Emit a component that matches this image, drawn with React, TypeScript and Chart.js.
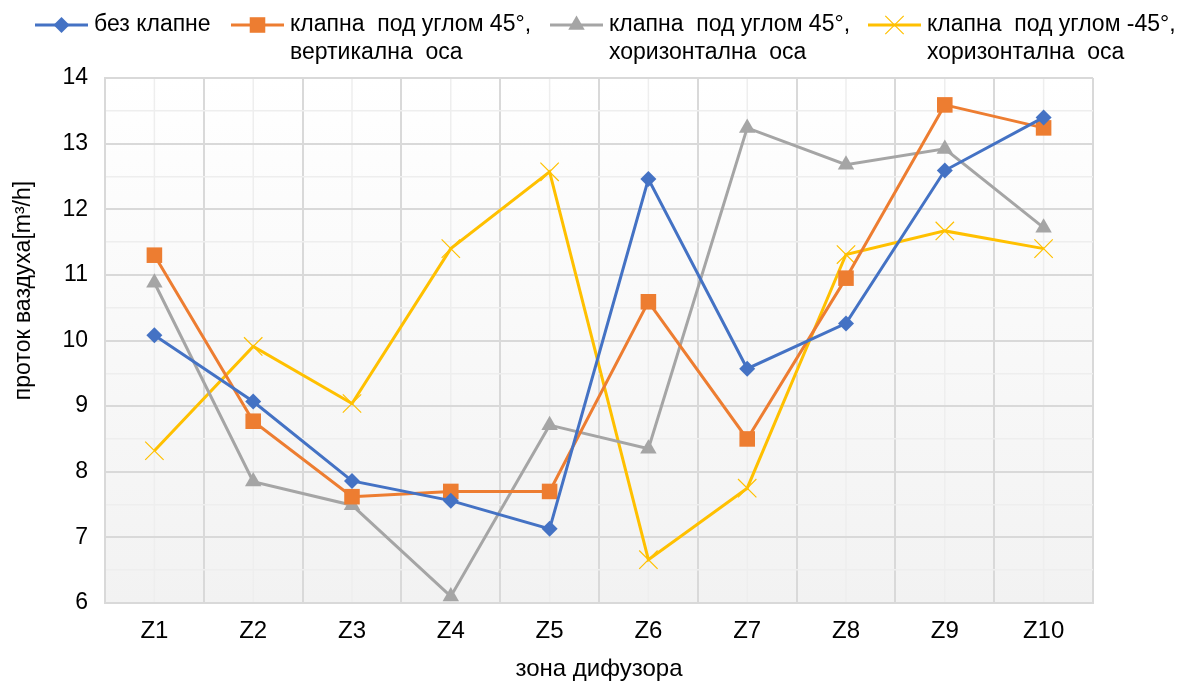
import React, { useEffect, useRef } from 'react';
import { Chart, registerables } from 'chart.js';

Chart.register(...registerables);

const categories = ['Z1', 'Z2', 'Z3', 'Z4', 'Z5', 'Z6', 'Z7', 'Z8', 'Z9', 'Z10'];

const bezKlapne = [10.08, 9.07, 7.86, 7.56, 7.13, 12.46, 9.57, 10.26, 12.59, 13.4];
const klapna45Vert = [11.3, 8.77, 7.62, 7.7, 7.7, 10.59, 8.5, 10.95, 13.59, 13.24];
const klapna45Hor = [10.88, 7.85, 7.49, 6.1, 8.71, 8.35, 13.24, 12.68, 12.92, 11.72];
const klapnaMinus45Hor = [8.32, 9.91, 9.04, 11.4, 12.57, 6.66, 7.75, 11.31, 11.67, 11.4];

const seriesLabels = [
  ['без клапне'],
  ['клапна  под углом 45°,', 'вертикална  оса'],
  ['клапна  под углом 45°,', 'хоризонтална  оса'],
  ['клапна  под углом -45°,', 'хоризонтална  оса'],
];

const yTitle = 'проток ваздуха[m³/h]';
const xTitle = 'зона дифузора';

const COLORS = ['#4472C4', '#ED7D31', '#A5A5A5', '#FFC000'];
const STYLES = ['rectRot', 'rect', 'triangle', 'crossRot'];
const RADII = [8, 11, 9.5, 13];
const LEGEND_X = [35, 231, 550, 868];

const SANS = "'Liberation Sans', Arial, sans-serif";
const NARROW = "'Liberation Sans Narrow', 'Liberation Sans', Arial, sans-serif";

function drawMarker(ctx: CanvasRenderingContext2D, style: string, x: number, y: number, r: number, color: string) {
  ctx.save();
  ctx.fillStyle = color;
  ctx.strokeStyle = color;
  ctx.beginPath();
  if (style === 'rectRot') {
    ctx.moveTo(x - r, y);
    ctx.lineTo(x, y - r);
    ctx.lineTo(x + r, y);
    ctx.lineTo(x, y + r);
    ctx.closePath();
    ctx.fill();
  } else if (style === 'rect') {
    const s = Math.SQRT1_2 * r;
    ctx.rect(x - s, y - s, 2 * s, 2 * s);
    ctx.fill();
  } else if (style === 'triangle') {
    const a = (2 * Math.PI) / 3;
    ctx.moveTo(x, y - r);
    ctx.lineTo(x + Math.sin(a) * r, y - Math.cos(a) * r);
    ctx.lineTo(x + Math.sin(2 * a) * r, y - Math.cos(2 * a) * r);
    ctx.closePath();
    ctx.fill();
  } else {
    const d = Math.SQRT1_2 * r;
    ctx.lineWidth = 1.2;
    ctx.moveTo(x - d, y - d);
    ctx.lineTo(x + d, y + d);
    ctx.moveTo(x + d, y - d);
    ctx.lineTo(x - d, y + d);
    ctx.stroke();
  }
  ctx.restore();
}

const decorPlugin = {
  id: 'decor',
  beforeDraw(chart: any) {
    const { ctx, chartArea } = chart;
    const { left, right, top, bottom } = chartArea;
    ctx.save();
    const g = ctx.createLinearGradient(0, top, 0, bottom);
    g.addColorStop(0, '#FFFFFF');
    g.addColorStop(1, '#F2F2F2');
    ctx.fillStyle = g;
    ctx.fillRect(left, top, right - left, bottom - top);
    // minor vertical gridlines at category centres
    const xs = chart.scales.x;
    ctx.strokeStyle = '#EEEEEE';
    ctx.lineWidth = 1.5;
    categories.forEach((_, i) => {
      const px = xs.getPixelForValue(i);
      ctx.beginPath();
      ctx.moveTo(px, top);
      ctx.lineTo(px, bottom);
      ctx.stroke();
    });
    ctx.restore();
  },
  afterDraw(chart: any) {
    const { ctx, chartArea } = chart;
    ctx.save();
    // legend
    ctx.font = `23px ${SANS}`;
    ctx.textBaseline = 'middle';
    ctx.textAlign = 'left';
    seriesLabels.forEach((lines, i) => {
      const x0 = LEGEND_X[i];
      const y0 = 25;
      ctx.strokeStyle = COLORS[i];
      ctx.lineWidth = 3;
      ctx.beginPath();
      ctx.moveTo(x0, y0);
      ctx.lineTo(x0 + 53, y0);
      ctx.stroke();
      drawMarker(ctx, STYLES[i], x0 + 26.5, y0, RADII[i], COLORS[i]);
      ctx.fillStyle = '#000000';
      lines.forEach((t, j) => ctx.fillText(t, x0 + 59, y0 + j * 28));
    });
    // y axis title
    ctx.translate(24, (chartArea.top + chartArea.bottom) / 2 - 50);
    ctx.rotate(-Math.PI / 2);
    ctx.textAlign = 'center';
    ctx.font = `23px ${SANS}`;
    ctx.fillText(yTitle, 0, 0);
    ctx.restore();
  },
};

export default function App() {
  const ref = useRef<HTMLCanvasElement>(null);
  useEffect(() => {
    document.body.style.margin = '0';
    const canvas = ref.current!;
    const datasets = [bezKlapne, klapna45Vert, klapna45Hor, klapnaMinus45Hor].map((data, i) => ({
      label: seriesLabels[i].join(' '),
      data,
      borderColor: COLORS[i],
      backgroundColor: COLORS[i],
      borderWidth: 3,
      pointStyle: STYLES[i],
      pointRadius: RADII[i],
      pointHoverRadius: RADII[i],
      pointBorderWidth: i === 3 ? 1.2 : 0,
      pointBorderColor: COLORS[i],
      pointBackgroundColor: COLORS[i],
      tension: 0,
      clip: false as any,
    }));
    const chart = new Chart(canvas, {
      type: 'line',
      data: { labels: categories, datasets },
      options: {
        animation: false,
        responsive: false,
        events: [],
        layout: { padding: { top: 78, right: 92, left: 0, bottom: 0 } },
        plugins: {
          legend: { display: false },
          tooltip: { enabled: false },
          title: { display: false },
        },
        scales: {
          x: {
            offset: true,
            afterFit: (s: any) => { s.height = 81; },
            grid: { offset: true, color: '#D9D9D9', lineWidth: 2, drawTicks: false },
            border: { color: '#D9D9D9', width: 2 },
            ticks: { color: '#000000', font: { family: NARROW, size: 24 }, padding: 14 },
            title: { display: true, text: xTitle, color: '#000000', font: { family: NARROW, size: 24 }, padding: { top: 0, bottom: 0 } },
          },
          y: {
            min: 6,
            max: 14,
            afterFit: (s: any) => { s.width = 105; },
            grid: {
              drawTicks: false,
              color: (c: any) => (Number.isInteger(c.tick?.value) ? '#D9D9D9' : '#EEEEEE'),
              lineWidth: (c: any) => (Number.isInteger(c.tick?.value) ? 2 : 1.5),
            },
            border: { color: '#D9D9D9', width: 2 },
            ticks: {
              stepSize: 0.5,
              color: '#000000',
              padding: 17,
              font: { family: SANS, size: 23 },
              callback: (v: any) => (Number.isInteger(v) ? String(v) : ''),
            },
          },
        },
      },
      plugins: [decorPlugin],
    });
    return () => chart.destroy();
  }, []);
  return (
    <div style={{ width: 1185, height: 684 }}>
      <canvas ref={ref} width={1185} height={684} style={{ display: 'block' }} />
    </div>
  );
}
